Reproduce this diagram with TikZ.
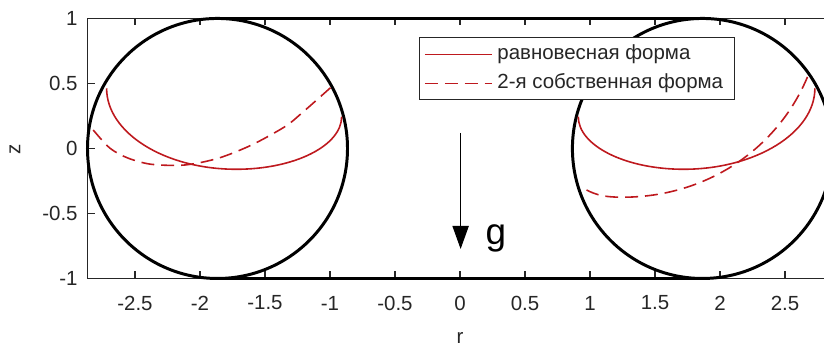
\documentclass[tikz,border=0pt]{standalone}
\usepackage{fontspec}
\setmainfont{Liberation Sans}
\usetikzlibrary{arrows.meta}
\definecolor{axisgray}{gray}{0.15}
\definecolor{shapered}{RGB}{190,25,30}
\tikzset{
    axis/.style={draw=axisgray, line width=0.6pt},
    wall/.style={draw=black, line width=1.5pt},
    ticklabel/.style={font=\fontsize{10.3}{12}\selectfont, text=axisgray, inner sep=0pt},
    equil/.style={draw=shapered, line width=0.8pt},
    mode/.style={equil, dash pattern=on 6.5pt off 3.5pt},
    legendbox/.style={draw=axisgray, line width=0.5pt, fill=white},
    gravity/.style={-{Triangle[length=0.41cm,width=0.29cm]}, line width=0.5pt},
}

\begin{document}
\begin{tikzpicture}[x=2.3cm, y=2.3cm]

    \clip (-3.538,-1.5115) rectangle (2.8,1.142);

    \draw[axis] (-2.865,-1) rectangle (2.865,1);
    \foreach \r in {-2.5,-2,-1.5,-1,-0.5,0,0.5,1,1.5,2,2.5} {
        \draw[axis] (\r,-1) -- (\r,-0.946);
        \draw[axis] (\r,1) -- (\r,0.946);
        \node[ticklabel] at (\r,-1.189) {\r};
    }
    \foreach \z in {-1,-0.5,0,0.5,1} {
        \draw[axis] (-2.865,\z) -- (-2.811,\z);
        \node[ticklabel, anchor=east] at (-2.938,\z) {\z};
    }
    \node[ticklabel, rotate=90] (zlabel) at (-3.423,-0.01) {z};
    \node[ticklabel] (rlabel) at (0,-1.454) {r};

    \draw[wall] (-1.865,0) circle (1);
    \draw[wall] (1.865,0) circle (1);
    \draw[wall] (-1.865,1) -- (1.865,1);
    \draw[wall] (-1.865,-1) -- (1.865,-1);

    \draw[equil] (-2.718,0.463) .. controls (-2.718,0.121) and (-2.272,-0.16) .. (-1.72,-0.16)
        .. controls (-1.273,-0.16) and (-0.91,0.021) .. (-0.91,0.245);
    \draw[equil] (0.91,0.245) .. controls (0.91,0.021) and (1.273,-0.16) .. (1.72,-0.16)
        .. controls (2.272,-0.16) and (2.73,0.121) .. (2.73,0.463);
    \draw[mode] plot[smooth] coordinates {(-2.821,0.142) (-2.692,0.002) (-2.551,-0.075)
        (-2.372,-0.122) (-2.115,-0.127) (-1.859,-0.075) (-1.602,0.027) (-1.346,0.168)
        (-1.218,0.271) (-0.987,0.475)};
    \draw[mode] (0.974,-0.319) .. controls (1.05,-0.36) and (1.12,-0.375) .. (1.25,-0.375)
        .. controls (1.9,-0.375) and (2.45,0) .. (2.679,0.565);

    \draw[legendbox] (-0.315,0.373) rectangle (2.115,0.85);
    \coordinate (eqstart) at (-0.269,0.723);
    \coordinate (eqend) at (0.246,0.723);
    \coordinate (modestart) at (-0.269,0.5);
    \coordinate (modeend) at (0.246,0.5);
    \draw[equil] (eqstart) -- (eqend);
    \draw[mode] (modestart) -- (modeend);
    \node[ticklabel, anchor=west] (eqtext) at (0.285,0.723) {равновесная форма};
    \node[ticklabel, anchor=west] (modetext) at (0.285,0.5) {2-я собственная форма};

    \coordinate (gtop) at (0.005,0.119);
    \coordinate (gtip) at (0.005,-0.773);
    \draw[gravity] (gtop) -- (gtip);
    \node[font=\fontsize{18.6}{20}\selectfont, anchor=base, inner sep=0pt] (glabel) at (0.277,-0.735) {g};

\end{tikzpicture}
\end{document}
